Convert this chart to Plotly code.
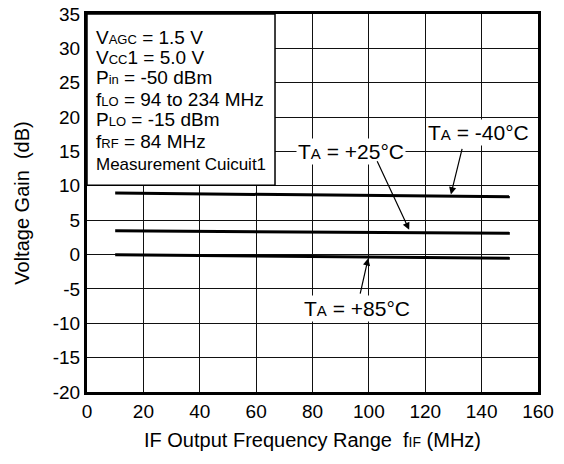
import plotly.graph_objects as go

# ---- data ----
freq_mhz = [10, 30, 50, 70, 90, 110, 130, 150]
gain_m40 = [8.95, 8.88, 8.8, 8.72, 8.64, 8.56, 8.48, 8.4]
gain_p25 = [3.45, 3.4, 3.35, 3.3, 3.25, 3.2, 3.15, 3.1]
gain_p85 = [-0.03, -0.1, -0.17, -0.25, -0.33, -0.4, -0.48, -0.55]

x_ticks = [0, 20, 40, 60, 80, 100, 120, 140, 160]
y_ticks = [-20, -15, -10, -5, 0, 5, 10, 15, 20, 25, 30, 35]
x_ticktext = [str(v) for v in x_ticks]
y_ticktext = [str(v) for v in y_ticks]

SUB = "<span style='font-size:{}px'>{}</span>"
cond_lines = [
    "V" + SUB.format(13, "AGC") + " = 1.5 V",
    "V" + SUB.format(13, "CC") + "1 = 5.0 V",
    "P" + SUB.format(13, "in") + " = -50 dBm",
    "f" + SUB.format(13, "LO") + " = 94 to 234 MHz",
    "P" + SUB.format(13, "LO") + " = -15 dBm",
    "f" + SUB.format(13, "RF") + " = 84 MHz",
    "Measurement Cuicuit1",
]
cond_y = [31.65, 28.74, 25.69, 22.63, 19.58, 16.38, 13.17]

FONT = "Liberation Sans, Arial, Helvetica, sans-serif"

fig = go.Figure()
for g in (gain_m40, gain_p25, gain_p85):
    fig.add_trace(go.Scatter(x=freq_mhz, y=g, mode="lines",
                             line=dict(color="black", width=3),
                             showlegend=False, hoverinfo="skip"))

# condition box
fig.add_shape(type="rect", xref="x", yref="y", x0=0, x1=66.7, y0=10.1, y1=35,
              fillcolor="white", line=dict(color="black", width=1.5), layer="above")

annotations = []
for i, (t, yy) in enumerate(zip(cond_lines, cond_y)):
    annotations.append(dict(x=2.6, y=yy, xref="x", yref="y", text=t,
                            showarrow=False, xanchor="left", yanchor="middle",
                            font=dict(size=17 if i == 6 else 19, color="black", family=FONT)))

# temperature labels
labels = [
    ("T" + SUB.format(15, "A") + " = -40°C", 139.0, 17.7),
    ("T" + SUB.format(15, "A") + " = +25°C", 93.8, 15.0),
    ("T" + SUB.format(15, "A") + " = +85°C", 95.9, -7.8),
]
for t, xx, yy in labels:
    annotations.append(dict(x=xx, y=yy, xref="x", yref="y", text=t, showarrow=False,
                            bgcolor="white", borderpad=1,
                            font=dict(size=21, color="black", family=FONT)))

arrows = [
    (133.2, 15.6, 129.1, 8.75),
    (102.7, 13.8, 114.3, 3.6),
    (96.8, -5.9, 99.75, -0.55),
]
for ax_, ay_, hx, hy in arrows:
    annotations.append(dict(x=hx, y=hy, ax=ax_, ay=ay_, xref="x", yref="y",
                            axref="x", ayref="y", text="", showarrow=True,
                            arrowhead=2, arrowsize=1.2, arrowwidth=1.2,
                            arrowcolor="black", standoff=0, startstandoff=0))

fig.update_layout(
    width=564, height=464,
    margin=dict(l=87, r=26, t=14, b=72),
    paper_bgcolor="white", plot_bgcolor="white",
    font=dict(family=FONT, size=19, color="black"),
    annotations=annotations,
    showlegend=False,
)
fig.update_xaxes(range=[0, 160], tickvals=x_ticks, ticktext=x_ticktext, showgrid=True,
                 gridcolor="#111", gridwidth=1.3, zeroline=False,
                 showline=True, linecolor="black", linewidth=3, mirror=True,
                 ticks="", tickfont=dict(size=19), automargin=False,
                 title=dict(text="IF Output Frequency Range  f" + SUB.format(14, "IF") + " (MHz)",
                            font=dict(size=20), standoff=13))
fig.update_yaxes(range=[-20, 35], tickvals=y_ticks, ticktext=y_ticktext, showgrid=True,
                 gridcolor="#111", gridwidth=1.3, zeroline=False,
                 showline=True, linecolor="black", linewidth=3, mirror=True,
                 ticks="", tickfont=dict(size=19), automargin=False,
                 title=dict(text="Voltage Gain  (dB)", font=dict(size=20), standoff=18))

fig.write_html("out.html", config={"displayModeBar": False},
               post_script="document.body.style.margin='0';")
